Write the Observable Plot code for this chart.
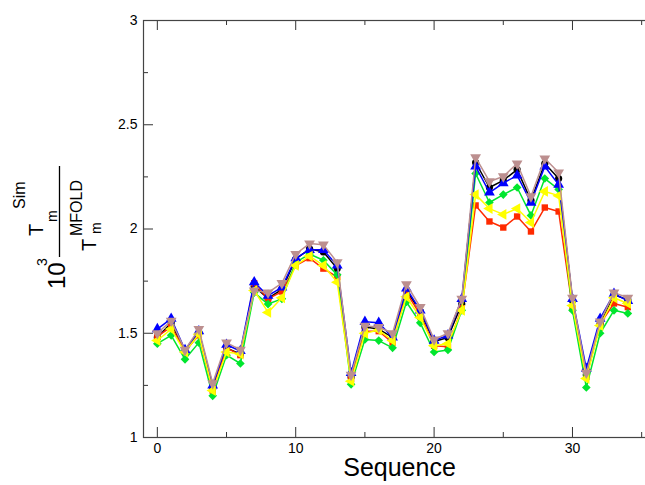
<!DOCTYPE html>
<html>
<head>
<meta charset="utf-8">
<script src="https://cdn.jsdelivr.net/npm/d3@7"></script>
<script src="https://cdn.jsdelivr.net/npm/@observablehq/plot@0.6"></script>
<style>
  html, body { margin: 0; padding: 0; background: #fff; overflow: hidden; width: 645px; height: 485px; }
  #chart { position: relative; width: 645px; height: 485px; overflow: hidden; }
  #chart svg { max-width: none !important; }
</style>
</head>
<body>
<div id="chart"></div>
<script>
const sequence = [0,1,2,3,4,5,6,7,8,9,10,11,12,13,14,15,16,17,18,19,20,21,22,23,24,25,26,27,28,29,30,31,32,33,34];

const seriesBlack  = [1.48,1.55,1.41,1.50,1.235,1.43,1.40,1.725,1.667,1.71,1.855,1.905,1.89,1.81,1.29,1.53,1.52,1.48,1.705,1.605,1.46,1.48,1.64,2.319,2.199,2.233,2.285,2.137,2.314,2.242,1.657,1.30,1.545,1.685,1.66];
const seriesRed    = [1.485,1.53,1.415,1.49,1.225,1.43,1.395,1.74,1.665,1.70,1.825,1.86,1.81,1.77,1.28,1.51,1.51,1.455,1.695,1.59,1.44,1.435,1.62,2.113,2.036,2.007,2.06,1.988,2.103,2.084,1.62,1.29,1.545,1.643,1.625];
const seriesGreen  = [1.45,1.49,1.375,1.455,1.20,1.395,1.355,1.695,1.64,1.665,1.84,1.88,1.85,1.78,1.255,1.47,1.465,1.43,1.65,1.55,1.41,1.42,1.61,2.266,2.127,2.165,2.199,2.065,2.242,2.19,1.61,1.24,1.50,1.61,1.595];
const seriesBlue   = [1.52,1.57,1.42,1.51,1.25,1.445,1.415,1.745,1.68,1.72,1.86,1.90,1.90,1.825,1.31,1.555,1.55,1.48,1.715,1.61,1.465,1.49,1.665,2.30,2.175,2.22,2.257,2.127,2.30,2.213,1.665,1.33,1.57,1.69,1.655];
const seriesYellow = [1.465,1.52,1.41,1.495,1.225,1.41,1.40,1.705,1.60,1.67,1.825,1.87,1.825,1.745,1.27,1.50,1.515,1.465,1.675,1.575,1.44,1.45,1.61,2.165,2.098,2.07,2.098,2.031,2.18,2.16,1.633,1.283,1.537,1.67,1.643];
const seriesBrown  = [1.50,1.56,1.42,1.52,1.26,1.455,1.42,1.705,1.695,1.74,1.88,1.93,1.925,1.84,1.30,1.535,1.53,1.50,1.735,1.625,1.47,1.50,1.665,2.343,2.228,2.252,2.314,2.156,2.338,2.271,1.67,1.31,1.556,1.695,1.67];

const xTicksMajor = [0,10,20,30];
const xTicksMinor = [5,15,25,35];
const yTicksMajor = [1,1.5,2,2.5,3];
const yTicksMinor = [1.25,1.75,2.25,2.75];

const series = [
  {name: "black",  values: seriesBlack,  color: "#000000", symbol: "circle",   rotate: 0},
  {name: "red",    values: seriesRed,    color: "#ff2a00", symbol: "square",   rotate: 0},
  {name: "green",  values: seriesGreen,  color: "#00e62e", symbol: "diamond2", rotate: 0},
  {name: "blue",   values: seriesBlue,   color: "#0000ff", symbol: "triangle", rotate: 0},
  {name: "yellow", values: seriesYellow, color: "#ffff00", symbol: "triangle", rotate: -90},
  {name: "brown",  values: seriesBrown,  color: "#bc8f8f", symbol: "triangle", rotate: 180}
];

const W = 655, H = 485;
const mL = 143, mT = 20, mB = 48, mR = 0;
const plotW = W - mL - mR, plotH = H - mT - mB;

const marks = [];
for (const s of series) {
  const rows = sequence.map((q, i) => ({seq: q, value: s.values[i]}));
  marks.push(Plot.line(rows, {x: "seq", y: "value", stroke: s.color, strokeWidth: 1.5}));
  marks.push(Plot.dot(rows, {x: "seq", y: "value", fill: s.color, stroke: "none",
    symbol: s.symbol, rotate: s.rotate, r: s.symbol === "triangle" ? 4 : (s.symbol === "diamond2" ? 3.9 : 3.6)}));
}

const chart = Plot.plot({
  width: W, height: H,
  marginLeft: mL, marginTop: mT, marginBottom: mB, marginRight: mR,
  style: {fontFamily: "'Liberation Sans', Arial, sans-serif", fontSize: "14px", color: "#000", background: "#fff", maxWidth: "none"},
  x: {domain: [-1, 36], ticks: xTicksMajor},
  y: {domain: [1, 3], ticks: yTicksMajor},
  marks: [
    Plot.tickX(xTicksMajor, {x: d => d, insetTop: plotH - 10, stroke: "#333"}),
    Plot.tickX(xTicksMinor, {x: d => d, insetTop: plotH - 5, stroke: "#333"}),
    Plot.tickX(xTicksMajor, {x: d => d, insetBottom: plotH - 10, stroke: "#333"}),
    Plot.tickX(xTicksMinor, {x: d => d, insetBottom: plotH - 5, stroke: "#333"}),
    Plot.tickY(yTicksMajor, {y: d => d, insetRight: plotW - 10, stroke: "#333"}),
    Plot.tickY(yTicksMinor, {y: d => d, insetRight: plotW - 5, stroke: "#333"}),
    Plot.tickY(yTicksMajor, {y: d => d, insetLeft: plotW - 10, stroke: "#333"}),
    Plot.tickY(yTicksMinor, {y: d => d, insetLeft: plotW - 5, stroke: "#333"}),
    Plot.axisX({ticks: xTicksMajor, tickSize: 0, tickPadding: 6, label: null, fontSize: 14}),
    Plot.axisY({ticks: yTicksMajor, tickSize: 0, tickPadding: 6, label: null, fontSize: 14, tickFormat: d => String(d)}),
    Plot.frame({stroke: "#444", strokeWidth: 1.2}),
    ...marks,
    Plot.text(["Sequence"], {frameAnchor: "bottom", dy: 38, fontSize: 25, fill: "#000"})
  ]
});
chart.style.maxWidth = "none";
chart.setAttribute("width", W);
document.getElementById("chart").appendChild(chart);

// Rotated fraction label: 10^3 · T_m^Sim / T_m^MFOLD
const svg = d3.select(chart);
const lab = svg.append("g").attr("font-family", "'Liberation Sans', Arial, sans-serif").attr("fill", "#000");
function rtext(str, bx, sy, size) {
  lab.append("text").attr("transform", `translate(${bx},${sy}) rotate(-90)`)
    .attr("font-size", size).attr("text-anchor", "start").text(str);
}
rtext("10", 65, 289, 24);
rtext("3", 47, 266, 14);
lab.append("line").attr("x1", 59.5).attr("x2", 59.5).attr("y1", 166).attr("y2", 257).attr("stroke", "#000").attr("stroke-width", 1.3);
// numerator
rtext("T", 43, 236, 20);
rtext("m", 57, 222, 14);
rtext("Sim", 25, 209, 16);
// denominator
rtext("T", 96, 251, 20);
rtext("m", 101, 234, 14);
rtext("MFOLD", 82, 236, 16);
</script>
</body>
</html>
